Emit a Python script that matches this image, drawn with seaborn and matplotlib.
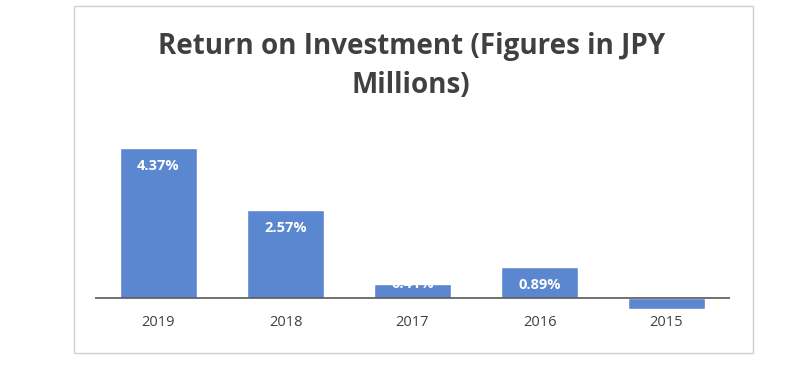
import seaborn as sns
import matplotlib.pyplot as plt
import pandas as pd
from matplotlib.patches import Rectangle

years = ['2019', '2018', '2017', '2016', '2015']
roi = [4.37, 2.57, 0.41, 0.89, -0.32]
labels = ['4.37%', '2.57%', '0.41%', '0.89%', '-0.32%']

df = pd.DataFrame({'Year': years, 'ROI': roi})

sns.set_style('white')
plt.rcParams['font.family'] = ['Open Sans', 'DejaVu Sans']

fig = plt.figure(figsize=(8, 3.7), dpi=100)
# outer chart border
fig.patches.append(Rectangle((74 / 800, 1 - 353 / 370), 679 / 800, 347 / 370,
                             transform=fig.transFigure, fill=False,
                             edgecolor='#d0d0d0', linewidth=1))

ax = fig.add_axes([95 / 800, 55 / 370, 635 / 800, 185 / 370])
sns.barplot(data=df, x='Year', y='ROI', order=years, color='#5b87d0',
            saturation=1, width=0.6, ax=ax)
ax.set_xlim(-0.5, 4.5)
ax.set_ylim(-0.5, 4.9)
ax.axhline(0, color='#595959', linewidth=1.2)
for s in ax.spines.values():
    s.set_visible(False)
ax.set_yticks([])
ax.set_xlabel('')
ax.set_ylabel('')
ax.tick_params(axis='x', length=0, pad=0, labelsize=10.5, labelcolor='#404040')

# data labels inside the bar ends (white, so the negative one is lost on white)
for i, (v, lab) in enumerate(zip(roi, labels)):
    if v < 0:
        continue
    y = v - 0.52 if v - 0.52 > 0 else v
    ax.text(i, y, lab, ha='center', va='center',
            color='white', fontsize=10.5, fontweight='bold')

fig.text(0.514, 1 - 66 / 370, 'Return on Investment (Figures in JPY\nMillions)',
         ha='center', va='center', fontsize=20, fontweight='bold',
         color='#404040', linespacing=1.45)

fig.savefig('out.png', dpi=100)
